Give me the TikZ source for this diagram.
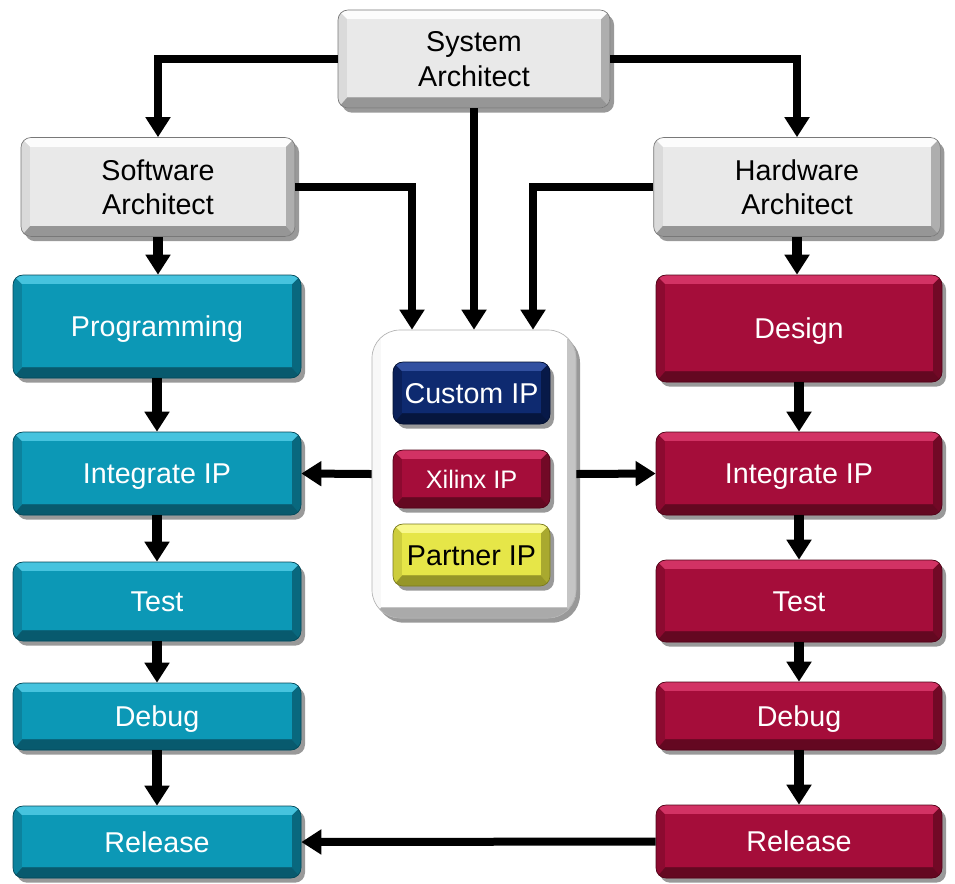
\documentclass[tikz,border=0pt]{standalone}
\usepackage{fontspec}
\setmainfont{Liberation Sans}
\usetikzlibrary{arrows.meta,calc,shadows}
\definecolor{tface}{RGB}{12,152,182}
\definecolor{tlight}{RGB}{70,195,222}
\definecolor{tdark}{RGB}{8,90,110}
\definecolor{tside}{RGB}{12,130,157}
\definecolor{rface}{RGB}{165,13,58}
\definecolor{rlight}{RGB}{210,50,100}
\definecolor{rdark}{RGB}{100,8,33}
\definecolor{rside}{RGB}{140,10,48}
\definecolor{gface}{RGB}{233,233,233}
\definecolor{glight}{RGB}{252,252,252}
\definecolor{gdark}{RGB}{150,150,150}
\definecolor{gside}{RGB}{218,218,218}
\definecolor{nface}{RGB}{14,42,112}
\definecolor{nlight}{RGB}{50,80,160}
\definecolor{ndark}{RGB}{6,22,62}
\definecolor{nside}{RGB}{10,32,90}
\definecolor{yface}{RGB}{230,230,72}
\definecolor{ylight}{RGB}{248,248,140}
\definecolor{ydark}{RGB}{150,150,40}
\definecolor{yside}{RGB}{205,205,60}
\definecolor{cface}{RGB}{255,255,255}
\definecolor{clight}{RGB}{255,255,255}
\definecolor{cdark}{RGB}{170,170,170}
\definecolor{cside}{RGB}{248,248,248}
\newcommand\mybevel[4]{%
  \fill[#4,sharp corners] (path picture bounding box.north west) rectangle (path picture bounding box.south east);
  \fill[#3!65!#4,sharp corners] let \p1=(path picture bounding box.north west), \p2=(path picture bounding box.south east) in
    (\x2,\y1) -- (\x2,\y2) -- (\x2-7pt,\y2+8pt) -- (\x2-7pt,\y1-7pt) -- cycle;
  \fill[#3,sharp corners] let \p1=(path picture bounding box.north west), \p2=(path picture bounding box.south east) in
    (\x1,\y2) -- (\x2,\y2) -- (\x2-7pt,\y2+8pt) -- (\x1+7pt,\y2+8pt) -- cycle;
  \fill[#2,sharp corners] let \p1=(path picture bounding box.north west), \p2=(path picture bounding box.south east) in
    (\x1,\y1) -- (\x2,\y1) -- (\x2-7pt,\y1-7pt) -- (\x1+7pt,\y1-7pt) -- cycle;
  \fill[#1,sharp corners] let \p1=(path picture bounding box.north west), \p2=(path picture bounding box.south east) in
    (\x1+7pt,\y1-7pt) rectangle (\x2-7pt,\y2+8pt);
}
\tikzset{
  bev/.style={rectangle, rounded corners=7.5pt, fill=#1side, draw=#1dark!80!black, line width=0.5pt,
    drop shadow={shadow xshift=3pt, shadow yshift=-3.5pt, opacity=0.4, fill=black},
    inner sep=0pt, align=center, font=\fontsize{21.5}{26}\selectfont,
    path picture={\mybevel{#1face}{#1light}{#1dark}{#1side}}},
  oneline/.style={text height=15.5pt, text depth=0pt},
  graybox/.style={bev=g, text=black, text depth=0pt},
  tealbox/.style={bev=t, oneline, text=white, minimum width=216pt},
  redbox/.style={bev=r, oneline, text=white, minimum width=214.5pt},
  ipbox/.style={oneline, minimum width=117.75pt},
  conn/.style={line width=6pt, -{Triangle[length=15pt,width=18pt]}},
  vconn/.style={line width=7.5pt, -{Triangle[length=15pt,width=18pt]}},
}
\begin{document}
\begin{tikzpicture}[x=0.75pt,y=-0.75pt]
\useasboundingbox (0,0) rectangle (955,883);
% architects
\node[graybox, minimum width=204pt, minimum height=73.5pt] (sys) at (474,59) {System\\Architect};
\node[graybox, minimum width=205.5pt, minimum height=74.25pt] (sw) at (158,187) {Software\\Architect};
\node[graybox, minimum width=215pt, minimum height=74.25pt] (hw) at (797,187) {Hardware\\Architect};
% software column
\node[tealbox, minimum height=77.25pt] (prog) at (157,326.5) {Programming};
\node[tealbox, minimum height=62.25pt] (lint) at (157,473.5) {Integrate IP};
\node[tealbox, minimum height=59.25pt] (ltest) at (157,601.5) {Test};
\node[tealbox, minimum height=50.25pt] (ldebug) at (157,716.5) {Debug};
\node[tealbox, minimum height=54pt] (lrel) at (157,842) {Release};
% hardware column
\node[redbox, minimum height=80.25pt] (design) at (799,328.5) {Design};
\node[redbox, minimum height=62.25pt] (rint) at (799,473.5) {Integrate IP};
\node[redbox, minimum height=61.5pt] (rtest) at (799,601) {Test};
\node[redbox, minimum height=51pt] (rdebug) at (799,716) {Debug};
\node[redbox, minimum height=54.75pt] (rrel) at (799,841.5) {Release};
% IP container
\node[bev=c, rounded corners=21pt, draw=gray!60, minimum width=153pt, minimum height=216pt] (cont) at (474,474) {};
\node[bev=n, ipbox, text=white, minimum height=46.5pt] (cip) at (471.5,393) {Custom IP};
\node[bev=r, ipbox, text=white, minimum height=43.5pt, font=\fontsize{19}{22}\selectfont, text height=13.7pt] (xip) at (471.5,479) {Xilinx IP};
\node[bev=y, ipbox, text=black, minimum height=46.5pt] (pip) at (471.5,555) {Partner IP};
% connectors from architects
\draw[conn] (sys.west) -| (sw.north);
\draw[conn] (sys.east) -| (hw.north);
\draw[conn] (sys.south) -- (sys.south |- cont.north);
\draw[conn] (sw.east) -| ([xshift=-46.5pt]cont.north);
\draw[conn] (hw.west) -| ([xshift=44.25pt]cont.north);
\draw[vconn] (sw.south) -- (sw.south |- prog.north);
\draw[vconn] (hw.south) -- (hw.south |- design.north);
% container to integrate
\draw[conn] (cont.west) -- (lint.east);
\draw[conn] (cont.east) -- (rint.west);
% software chain
\draw[vconn] (prog) -- (lint);
\draw[vconn] (lint) -- (ltest);
\draw[vconn] (ltest) -- (ldebug);
\draw[vconn] (ldebug) -- (lrel);
% hardware chain
\draw[vconn] (design) -- (rint);
\draw[vconn] (rint) -- (rtest);
\draw[vconn] (rtest) -- (rdebug);
\draw[vconn] (rdebug) -- (rrel);
% release link
\draw[conn] (rrel.west) -- (lrel.east);
\end{tikzpicture}
\end{document}
